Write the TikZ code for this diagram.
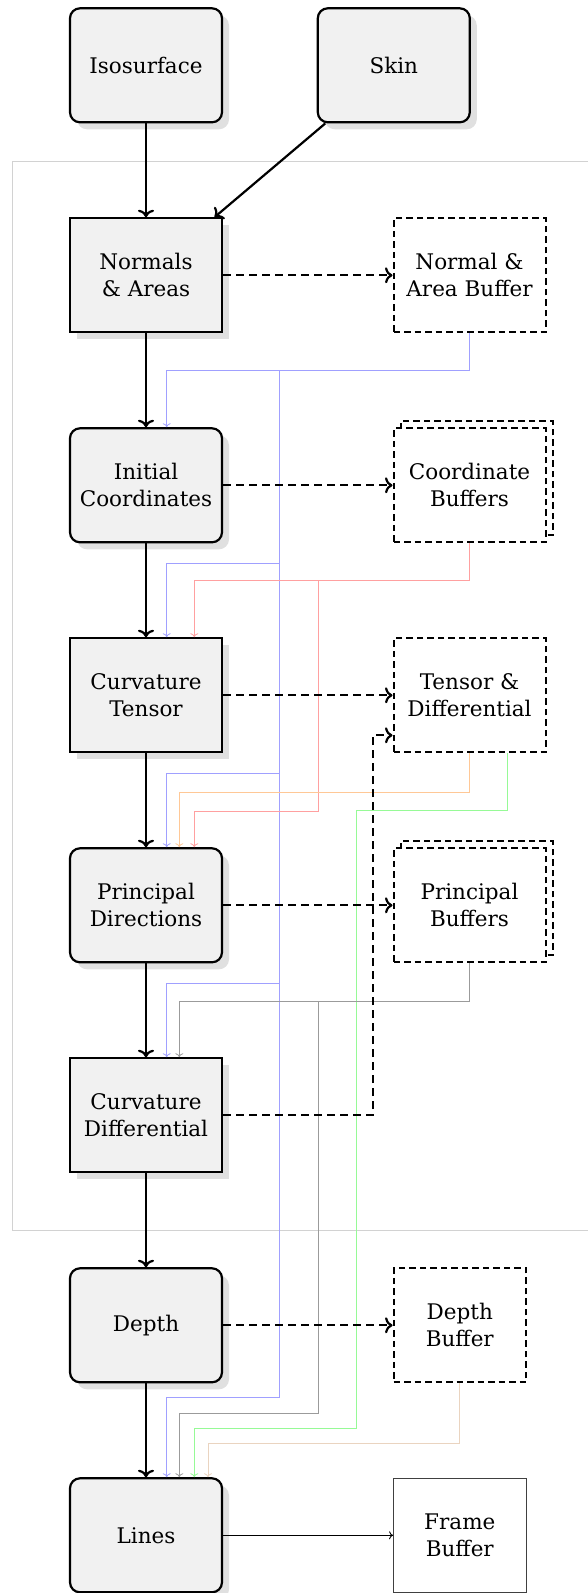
\documentclass[tikz,border=0pt]{standalone}
\usepackage{fontspec}
\setmainfont{DejaVu Serif}
\usetikzlibrary{arrows.meta,shadows,calc}
\definecolor{fbBlue}{RGB}{160,160,255}
\definecolor{fbRed}{RGB}{255,160,160}
\definecolor{fbOrange}{RGB}{255,200,150}
\definecolor{fbGreen}{RGB}{150,250,150}
\definecolor{fbGray}{RGB}{155,155,155}
\definecolor{fbTan}{RGB}{234,212,192}
\definecolor{frameGray}{RGB}{210,210,210}
\begin{document}
\begin{tikzpicture}[x=1pt,y=-1pt,
  txt/.style={font=\fontsize{21.5}{27}\selectfont, text=black, align=center, inner sep=0pt},
  proc/.style={txt, draw=black, line width=2.2pt, fill=black!5.5,
    minimum width=152pt, minimum height=114pt,
    drop shadow={shadow xshift=7pt,shadow yshift=-7pt,fill=black!12,opacity=1}},
  procr/.style={proc, rounded corners=10pt},
  buf/.style={txt, draw=black, line width=2pt, dash pattern=on 6.5pt off 4pt,
    fill=white, minimum width=152pt, minimum height=114pt},
  mainarrow/.style={line width=2.2pt, -{To[length=7.5pt,width=16pt]}},
  dasharrow/.style={line width=2.2pt, dash pattern=on 8pt off 5pt, -{To[length=7.5pt,width=16pt]}},
  fb/.style={line width=0.8pt, -{To[length=4pt,width=8pt]}},
  thinarrow/.style={line width=0.9pt, -{To[length=4pt,width=8pt]}}
]
\useasboundingbox (0,0) rectangle (588,1593);

% container
\draw[frameGray, line width=1pt] (590,161) -- (12.4,161) -- (12.4,1230) -- (590,1230);

% left column
\node[procr] (ISO) at (146,65.3) {Isosurface};
\node[procr] (SKIN) at (393.8,65.3) {Skin};
\node[proc] (NA) at (146,275.3) {Normals\\\& Areas};
\node[procr] (IC) at (146,485.3) {Initial\\Coordinates};
\node[proc] (CT) at (146,695.3) {Curvature\\Tensor};
\node[procr] (PD) at (146,905.3) {Principal\\Directions};
\node[proc] (CD) at (146,1115.3) {Curvature\\Differential};
\node[procr] (DE) at (146,1325.3) {Depth};
\node[procr] (LI) at (146,1535.3) {Lines};

% right column
\node[buf] (NAB) at (469.5,275.3) {Normal \&\\Area Buffer};
\node[buf] (CBb) at (476.5,478.3) {};
\node[buf] (CB) at (469.5,485.3) {Coordinate\\Buffers};
\node[buf] (TD) at (469.5,695.3) {Tensor \&\\Differential};
\node[buf] (PBb) at (476.5,898.3) {};
\node[buf] (PB) at (469.5,905.3) {Principal\\Buffers};
\node[buf, minimum width=132.5pt] (DB) at (459.8,1325.3) {Depth\\Buffer};
\node[txt, draw=black!75, line width=1pt, minimum width=132.5pt, minimum height=114pt] (FB) at (459.8,1535.3) {Frame\\Buffer};

% junction coordinates
\coordinate (bj) at (279,370.7);
\coordinate (rj) at (318.3,580.7);
\coordinate (gj) at (356,810.6);
\coordinate (yj) at (318.3,1001.5);

% blue feedback
\draw[fb, fbBlue] (NAB.south) |- (bj) -| ($(IC.north)+(20.7,0)$);
\draw[fb, fbBlue] (bj) |- ($(IC.south)+(20.7,20)$) -- ($(CT.north)+(20.7,0)$);
\draw[fb, fbBlue] (bj) |- ($(CT.south)+(20.7,20)$) -- ($(PD.north)+(20.7,0)$);
\draw[fb, fbBlue] (bj) |- ($(PD.south)+(20.7,20)$) -- ($(CD.north)+(20.7,0)$);
\draw[fb, fbBlue] (bj) |- ($(DE.south)+(20.7,14)$) -- ($(LI.north)+(20.7,0)$);

% red feedback
\draw[fb, fbRed] (CB.south) |- (rj) -| ($(CT.north)+(48.3,0)$);
\draw[fb, fbRed] (rj) |- ($(CT.south)+(48.3,58)$) -- ($(PD.north)+(48.3,0)$);

% orange feedback
\draw[fb, fbOrange] (TD.south) -- ++(0,39) -| ($(PD.north)+(33.3,0)$);

% green feedback
\draw[fb, fbGreen] ($(TD.south)+(37.8,0)$) |- (gj) |- ($(DE.south)+(48.3,45)$) -- ($(LI.north)+(48.3,0)$);

% gray feedback
\draw[fb, fbGray] (PB.south) |- (yj) -| ($(CD.north)+(33.3,0)$);
\draw[fb, fbGray] (yj) |- ($(DE.south)+(33.3,30)$) -- ($(LI.north)+(33.3,0)$);

% tan feedback
\draw[fb, fbTan] (DB.south) -- ++(0,60) -| ($(LI.north)+(62,0)$);

% main flow
\draw[mainarrow] (ISO.south) -- (NA.north);
\draw[mainarrow] (SKIN) -- (NA);
\draw[mainarrow] (NA.south) -- (IC.north);
\draw[mainarrow] (IC.south) -- (CT.north);
\draw[mainarrow] (CT.south) -- (PD.north);
\draw[mainarrow] (PD.south) -- (CD.north);
\draw[mainarrow] (CD.south) -- (DE.north);
\draw[mainarrow] (DE.south) -- (LI.north);

% buffer writes
\draw[dasharrow] (NA.east) -- (NAB.west);
\draw[dasharrow] (IC.east) -- (CB.west);
\draw[dasharrow] (CT.east) -- (TD.west);
\draw[dasharrow] (PD.east) -- (PB.west);
\draw[dasharrow] (DE.east) -- (DB.west);
\draw[dasharrow] (CD.east) -| ($(TD.west)+(-19.5,40)$) -- ($(TD.west)+(0,40)$);

% output
\draw[thinarrow] (LI.east) -- (FB.west);
\end{tikzpicture}
\end{document}
